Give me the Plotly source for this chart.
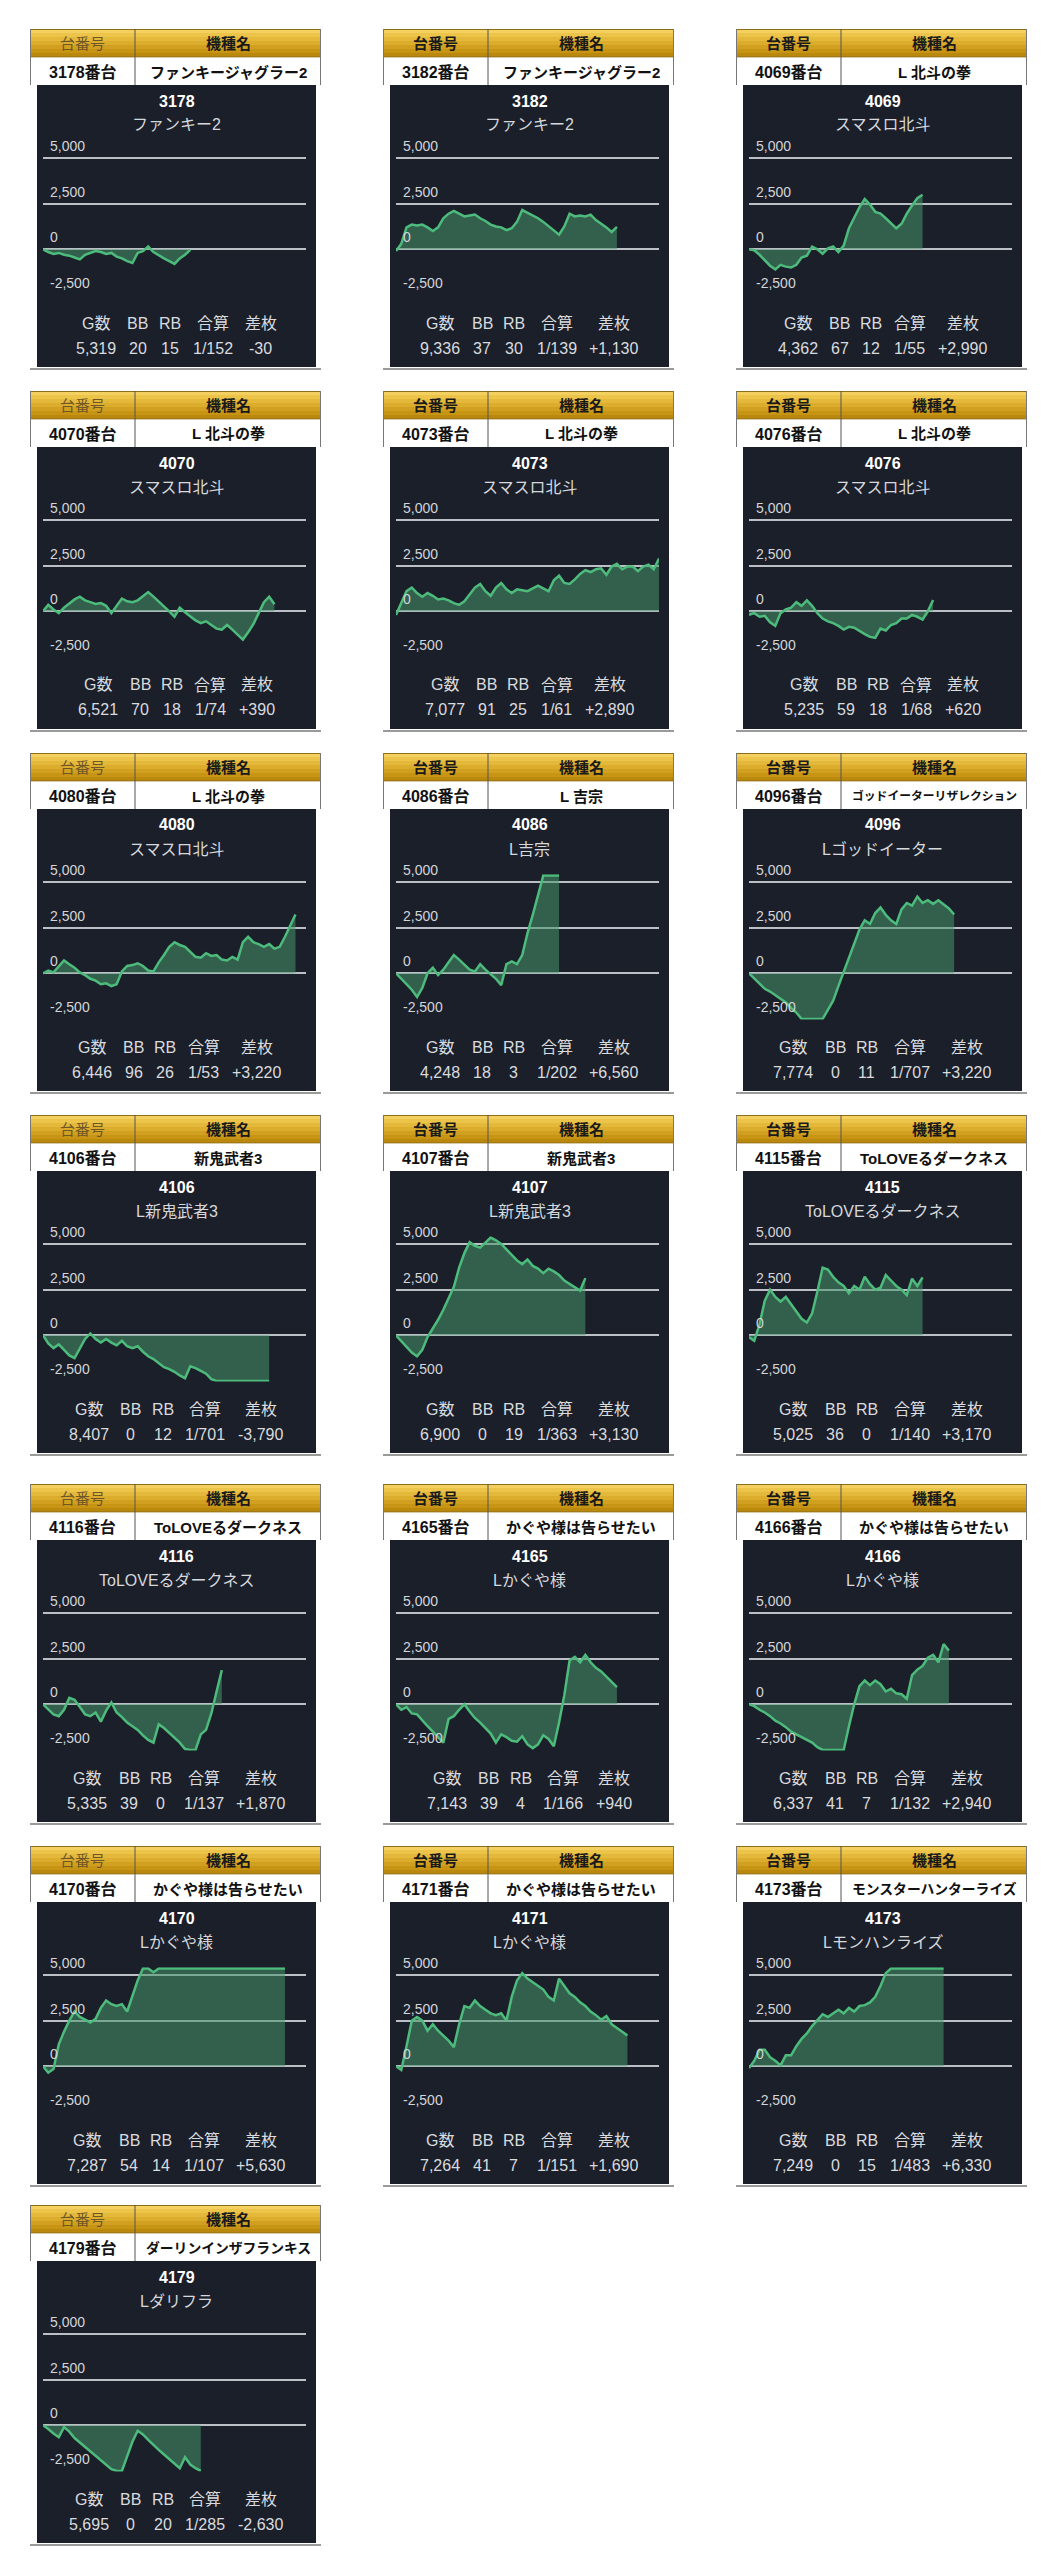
import plotly.graph_objects as go

W, H = 1047, 2560

# ---------------- data ----------------
machine_no = ["3178", "3182", "4069", "4070", "4073", "4076", "4080", "4086", "4096", "4106",
              "4107", "4115", "4116", "4165", "4166", "4170", "4171", "4173", "4179"]
machine_name = ["ファンキージャグラー2", "ファンキージャグラー2", "L 北斗の拳", "L 北斗の拳", "L 北斗の拳",
                "L 北斗の拳", "L 北斗の拳", "L 吉宗", "ゴッドイーターリザレクション", "新鬼武者3",
                "新鬼武者3", "ToLOVEるダークネス", "ToLOVEるダークネス", "かぐや様は告らせたい",
                "かぐや様は告らせたい", "かぐや様は告らせたい", "かぐや様は告らせたい",
                "モンスターハンターライズ", "ダーリンインザフランキス"]
chart_name = ["ファンキー2", "ファンキー2", "スマスロ北斗", "スマスロ北斗", "スマスロ北斗", "スマスロ北斗",
              "スマスロ北斗", "L吉宗", "Lゴッドイーター", "L新鬼武者3", "L新鬼武者3", "ToLOVEるダークネス",
              "ToLOVEるダークネス", "Lかぐや様", "Lかぐや様", "Lかぐや様", "Lかぐや様", "Lモンハンライズ",
              "Lダリフラ"]
games = [5319, 9336, 4362, 6521, 7077, 5235, 6446, 4248, 7774, 8407,
         6900, 5025, 5335, 7143, 6337, 7287, 7264, 7249, 5695]
bb = [20, 37, 67, 70, 91, 59, 96, 18, 0, 0, 0, 36, 39, 39, 41, 54, 41, 0, 0]
rb = [15, 30, 12, 18, 25, 18, 26, 3, 11, 12, 19, 0, 0, 4, 7, 14, 7, 15, 20]
combined = ["1/152", "1/139", "1/55", "1/74", "1/61", "1/68", "1/53", "1/202", "1/707", "1/701",
            "1/363", "1/140", "1/137", "1/166", "1/132", "1/107", "1/151", "1/483", "1/285"]
diff = [-30, 1130, 2990, 390, 2890, 620, 3220, 6560, 3220, -3790,
        3130, 3170, 1870, 940, 2940, 5630, 1690, 6330, -2630]

stat_labels = ["G数", "BB", "RB", "合算", "差枚"]
header_labels = ["台番号", "機種名"]
y_tick_vals = [5000, 2500, 0, -2500]
y_tick_text = ["5,000", "2,500", "0", "-2,500"]

# cumulative difference series (one value per time step)
s3178 = [0, -150, -250, -200, -300, -350, -450, -550, -300, -200, -100, -150, -250, -200, -400,
         -500, -650, -750, -200, -100, 150, -150, -350, -500, -650, -800, -500, -300, -30]
s3182 = [-100, 300, 1200, 1350, 1300, 1350, 1200, 1000, 1200, 1700, 1950, 2100, 1950, 1800, 1850,
         1900, 1700, 1550, 1350, 1250, 1200, 1050, 1150, 1500, 2150, 2000, 1850, 1700, 1500, 1250,
         1000, 800, 1250, 1950, 1800, 1850, 1800, 1900, 1600, 1400, 1200, 950, 1230]
s4069 = [0, -50, -300, -600, -900, -1100, -850, -950, -1000, -850, -450, -350, 150, 0, -250, 50,
         150, -150, 200, 1150, 1700, 2300, 2750, 2450, 2050, 1950, 1700, 1450, 1150, 1400, 1950,
         2400, 2800, 2990]
s4070 = [0, 350, 100, -100, 200, 450, 650, 800, 600, 500, 400, 450, 300, -100, 300, 700, 550, 500,
         600, 850, 1050, 800, 550, 300, 0, -300, 200, -50, -300, -500, -650, -550, -750, -950,
         -1000, -750, -1000, -1300, -1550, -1150, -700, -100, 500, 800, 390]
s4073 = [-200, 500, 1100, 1300, 1000, 800, 1000, 850, 650, 700, 600, 450, 350, 550, 900, 1300,
         1500, 1100, 850, 1300, 1550, 1200, 1000, 1200, 1150, 1100, 1250, 1400, 1250, 1100, 1700,
         1950, 1550, 1500, 1750, 2050, 2250, 2150, 2300, 2350, 2000, 2450, 2600, 2300, 2450, 2450,
         2200, 2450, 2550, 2300, 2890]
s4076 = [-200, -100, -300, -250, -600, -800, -100, 100, 200, 500, 300, 600, 300, -100, -400, -550,
         -650, -800, -1000, -850, -900, -1100, -1250, -1400, -1450, -950, -1050, -750, -650, -400,
         -400, -200, -300, -450, 0, 620]
s4080 = [0, 150, 50, 400, 700, 500, 300, 50, -100, -300, -400, -600, -550, -700, -600, 100, 400,
         450, 550, 400, 150, 100, 600, 1000, 1450, 1700, 1550, 1450, 1200, 900, 850, 1100, 950,
         1000, 750, 700, 900, 750, 1700, 2000, 1700, 1600, 1450, 1600, 1350, 1450, 2000, 2600, 3220]
s4086 = [0, -300, -600, -900, -1300, -800, 0, 300, -100, 200, 600, 1000, 750, 500, 200, 100, 500,
         200, -50, -300, -650, 500, 650, 500, 1000, 2200, 3200, 4300, 5350, 5350, 5350, 5350]
s4096 = [0, -300, -600, -850, -1000, -1200, -1400, -1600, -1900, -2150, -2500, -2500, -2500,
         -2500, -2500, -2000, -1500, -700, 100, 900, 1600, 2400, 2900, 2700, 3300, 3600, 3200, 2900,
         2700, 3500, 3850, 3700, 4200, 3850, 4000, 3800, 4000, 3750, 3550, 3220]
s4106 = [0, -450, -700, -500, -800, -1100, -1250, -700, -200, 100, -200, -400, -200, -400, -550,
         -300, -600, -700, -600, -900, -1150, -1300, -1550, -1750, -1850, -2000, -2200, -2350,
         -1700, -1800, -1950, -2100, -2400, -2500, -2500, -2500, -2500, -2500, -2500, -2500, -2500,
         -2500, -2500, -2500]
s4107 = [0, -300, -650, -950, -1150, -800, -100, 350, 850, 1400, 2000, 2650, 3700, 4500, 5100,
         4900, 4800, 5100, 5350, 5200, 5000, 4700, 4400, 4100, 3900, 4150, 3800, 3650, 3400, 3650,
         3500, 3300, 3000, 2800, 2600, 2450, 3130]
s4115 = [-100, -300, 600, 1900, 2500, 2100, 1850, 2100, 1700, 1300, 900, 700, 1200, 2400, 3700,
         3600, 3200, 2900, 2700, 2300, 2700, 2500, 3200, 2800, 2500, 2600, 3300, 3000, 2700, 2500,
         2200, 3100, 2700, 3170]
s4116 = [0, -300, -550, -650, -300, 350, 250, -150, -550, -650, -450, -950, -350, 100, -450, -700,
         -1000, -1200, -1400, -1700, -1950, -2100, -1100, -1300, -1550, -1800, -2100, -2450, -2500,
         -2500, -1650, -1400, -500, 700, 1870]
s4165 = [0, -300, -150, -500, -550, -900, -1200, -1500, -1800, -2100, -800, -650, -300, 0, -400,
         -750, -1000, -1300, -1600, -2100, -1650, -1800, -2000, -2050, -1750, -2200, -2400, -2200,
         -1700, -1900, -2300, -1000, 500, 2400, 2600, 2300, 2700, 2300, 2000, 1800, 1500, 1200, 940]
s4166 = [0, -100, -300, -450, -650, -900, -1050, -1250, -1500, -1650, -1800, -1950, -2100, -2350,
         -2500, -2500, -2500, -2500, -2500, -1200, 0, 1000, 1300, 1050, 1300, 1100, 700, 850, 600,
         550, 300, 1600, 1900, 2100, 2550, 2700, 2300, 3300, 2940]
s4170 = [0, -350, -150, 1200, 1900, 2500, 3000, 2700, 2550, 2400, 2600, 3200, 3600, 3400, 3300,
         3400, 3000, 3900, 4700, 5350, 5350, 5150, 5350, 5350, 5350, 5350, 5350, 5350, 5350, 5350,
         5350, 5350, 5350, 5350, 5350, 5350, 5350, 5350, 5350, 5350, 5350, 5350, 5350, 5350, 5350,
         5350, 5350]
s4171 = [0, -200, 1100, 2500, 2700, 2500, 1950, 2300, 1950, 1700, 1400, 1050, 2300, 3300, 3200,
         3600, 3300, 3100, 2900, 2800, 2900, 2500, 3800, 4700, 5100, 4800, 4600, 4400, 4200, 3800,
         3600, 4800, 4400, 4000, 3800, 3500, 3300, 3000, 2800, 2550, 2750, 2300, 2100, 1900, 1690]
s4173 = [-100, 300, 900, 900, 500, 300, 50, 600, 600, 1100, 1500, 1800, 2200, 2500, 2850, 2700,
         2900, 3100, 2900, 3200, 3000, 3300, 3350, 3500, 3800, 4400, 5100, 5350, 5350, 5350, 5350,
         5350, 5350, 5350, 5350, 5350, 5350, 5350]
s4179 = [0, -200, -450, -650, -100, -350, -700, -950, -1200, -1450, -1700, -1950, -2200, -2400,
         -2500, -2500, -1700, -900, -300, -500, -800, -1100, -1350, -1600, -1850, -2100, -2350,
         -1750, -2150, -2350, -2500]

series = [s3178, s3182, s4069, s4070, s4073, s4076, s4080, s4086, s4096, s4106,
          s4107, s4115, s4116, s4165, s4166, s4170, s4171, s4173, s4179]

X_STEPS = 50              # full width of a chart in time steps
Y_RANGE = [-2530, 5420]

# ---------------- layout geometry (pixels) ----------------
col_left = [22, 375, 728]
row_top = [21, 383, 745, 1107, 1476, 1838, 2197]
HDR_W = 291
CELL1_W = 105

FONT = "Liberation Sans, Noto Sans CJK JP"
BG_DARK = "#1b1f2a"
GOLD = ["#f3d060", "#ecc44a", "#e4b83a", "#dcac2c", "#d2a020", "#c79414", "#bb880e"]


def px(x):
    return x / W


def py(y):
    return 1 - y / H


shapes = []
annotations = []


def rect(x0, y0, x1, y1, fill, line_color=None, line_width=0):
    shapes.append(dict(type="rect", xref="paper", yref="paper", layer="below",
                       x0=px(x0), x1=px(x1), y0=py(y1), y1=py(y0), fillcolor=fill,
                       line=dict(color=line_color or fill, width=line_width)))


def hline(x0, x1, y, color, width=1):
    shapes.append(dict(type="line", xref="paper", yref="paper", layer="below",
                       x0=px(x0), x1=px(x1), y0=py(y), y1=py(y),
                       line=dict(color=color, width=width)))


def vline(x, y0, y1, color, width=1):
    shapes.append(dict(type="line", xref="paper", yref="paper", layer="below",
                       x0=px(x), x1=px(x), y0=py(y0), y1=py(y1),
                       line=dict(color=color, width=width)))


def text(x, y, s, size, color, bold=False, xanchor="center"):
    annotations.append(dict(xref="paper", yref="paper", x=px(x), y=py(y), text=f"<b>{s}</b>" if bold else s,
                            showarrow=False, xanchor=xanchor, yanchor="middle",
                            font=dict(family=FONT, size=size, color=color)))


def text_width(s, size):
    w = 0.0
    for ch in s:
        if ord(ch) > 0x2E80:
            w += 1.0
        elif ch.isdigit():
            w += 0.56
        elif ch == ",":
            w += 0.28
        elif ch == "/":
            w += 0.39
        elif ch == "+":
            w += 0.6
        elif ch == "-":
            w += 0.36
        elif ch in "BR":
            w += 0.64
        elif ch == "G":
            w += 0.72
        else:
            w += 0.6
    return w * size


def fmt_diff(v):
    if v > 0:
        return f"+{v:,}"
    return f"{v:,}"


fig = go.Figure()
layout_axes = {}

for i in range(len(series)):
    r, c = divmod(i, 3)
    L = col_left[c]
    T = row_top[r]
    R = L + HDR_W

    # gold header row (vertical gradient)
    n = len(GOLD)
    for k, col in enumerate(GOLD):
        rect(L, T + 28 * k / n, R, T + 28 * (k + 1) / n + 0.6, col)
    hline(L, R, T + 0.5, "#8c6d18", 1)
    hline(L, R, T + 28, "#8a6c1a", 1.2)
    # white row
    rect(L, T + 28.5, R, T + 56, "#ffffff")
    vline(L + 0.5, T, T + 56, "#777777", 1)
    vline(R - 0.5, T, T + 56, "#777777", 1)
    vline(L + CELL1_W, T, T + 56, "#555555", 1)
    # dark panel
    rect(L + 7, T + 56, R - 5, T + 338, BG_DARK)
    hline(L, R, T + 340, "#9a9a9a", 2)

    # header texts
    c1 = L + CELL1_W / 2
    c2 = L + CELL1_W + (HDR_W - CELL1_W) / 2
    if c == 0:
        text(c1, T + 14.5, header_labels[0], 15, "#6e5626")
    else:
        text(c1, T + 14.5, header_labels[0], 15, "#1a1a1a", bold=True)
    text(c2, T + 14.5, header_labels[1], 15, "#1a1a1a", bold=True)
    text(c1, T + 43, machine_no[i] + "番台", 16, "#111111", bold=True)
    nm = machine_name[i]
    nm_size = min(15.0, 165.0 / max(1.0, text_width(nm, 1.0)))
    text(c2, T + 43, nm, round(nm_size, 1), "#111111", bold=True)

    # chart titles
    pc = (L + 7 + R - 5) / 2
    text(pc, T + 72, machine_no[i], 16, "#ffffff", bold=True)
    text(pc, T + 96, chart_name[i], 16, "#d6d8dc")

    # stats table
    vals = [f"{games[i]:,}", str(bb[i]), str(rb[i]), combined[i], fmt_diff(diff[i])]
    fs = 16
    widths = [max(text_width(a, fs), text_width(b, fs)) for a, b in zip(stat_labels, vals)]
    pad = 11.4
    total = sum(widths) + pad * len(widths)
    x = pc - total / 2
    for lab, val, w in zip(stat_labels, vals, widths):
        cx = x + pad / 2 + w / 2
        text(cx, T + 294, lab, fs, "#d9dbdf")
        text(cx, T + 319, val, fs, "#d9dbdf")
        x += w + pad

    # chart axes
    ax = "" if i == 0 else str(i + 1)
    x0p, x1p = L + 13, L + 276
    ytop, ybot = T + 121.3, T + 266.5
    layout_axes["xaxis" + ax] = dict(domain=[px(x0p), px(x1p)], range=[0, X_STEPS], visible=False,
                                     fixedrange=True, anchor="y" + ax)
    layout_axes["yaxis" + ax] = dict(domain=[py(ybot), py(ytop)], range=Y_RANGE, anchor="x" + ax,
                                     tickvals=y_tick_vals, showticklabels=False, ticks="",
                                     showgrid=True, gridcolor="#bcc0c6", gridwidth=2,
                                     zeroline=False, showline=False, fixedrange=True)
    # tick labels sit just above their grid lines, at the left edge of the plot
    for tv, tt in zip(y_tick_vals, y_tick_text):
        annotations.append(dict(xref=f"x{ax} domain", yref=f"y{ax}", x=0, y=tv, text=tt,
                                showarrow=False, xanchor="left", yanchor="bottom",
                                xshift=5, yshift=2,
                                font=dict(family=FONT, size=14, color="#d3d5d9")))

    ys = series[i]
    fig.add_trace(go.Scatter(x=list(range(len(ys))), y=ys, mode="lines", fill="tozeroy",
                             fillcolor="rgba(70,150,105,0.55)",
                             line=dict(color="#4dbb7c", width=2.5),
                             xaxis="x" + ax, yaxis="y" + ax, showlegend=False, hoverinfo="skip"))

fig.update_layout(width=W, height=H, margin=dict(l=0, r=0, t=0, b=0),
                  paper_bgcolor="#ffffff", plot_bgcolor="rgba(0,0,0,0)",
                  shapes=shapes, annotations=annotations, showlegend=False,
                  font=dict(family=FONT), **layout_axes)

fig.write_html("out.html")
